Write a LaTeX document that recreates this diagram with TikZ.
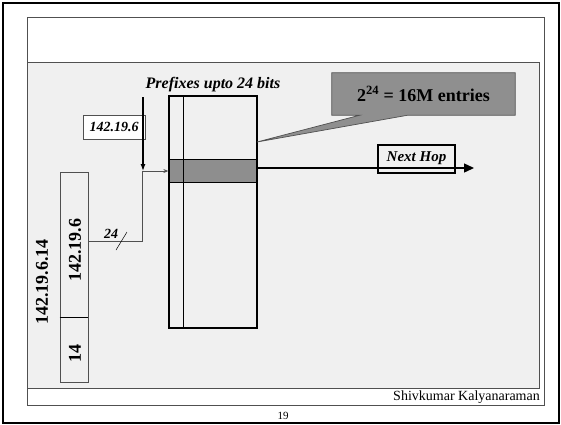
\documentclass[tikz,border=0pt]{standalone}
\usepackage{fontspec}
\setmainfont{Liberation Serif}
\usepackage{tikz}
\usetikzlibrary{arrows.meta,positioning,calc}
\definecolor{panel}{HTML}{F0F0F0}
\definecolor{rim}{HTML}{505050}
\definecolor{band}{HTML}{8E8E8E}
\definecolor{bubble}{HTML}{8F8F8F}

\begin{document}
\begin{tikzpicture}[x=1pt,y=-1pt,every node/.style={inner sep=0pt,align=center},
  tablebox/.style={draw=black,line width=1.3pt,minimum width=88pt,minimum height=232pt},
  cell/.style={draw=rim,line width=0.6pt,minimum width=#1},
  boldit/.style={font=\fontsize{#1}{#1}\selectfont\bfseries\itshape},
  boldup/.style={font=\fontsize{#1}{#1}\selectfont\bfseries},
  feed/.style={draw=rim,line width=0.7pt}]
\useasboundingbox (0,0) rectangle (561,424);
% slide frame
\draw[line width=2pt] (3,3) rectangle (559,423);
\draw[rim,line width=0.7pt] (27,17) rectangle (544,405);
\draw[rim,line width=0.7pt,fill=panel] (27,62) rectangle (539,388);
% forwarding table
\node[tablebox] (tbl) at (213,212) {};
\fill[band] (tbl.west |- 0,159) rectangle (tbl.east |- 0,182);
\draw[line width=0.8pt] (tbl.west |- 0,159) -- (tbl.east |- 0,159) (tbl.west |- 0,182) -- (tbl.east |- 0,182);
\draw[line width=0.6pt] ($(tbl.north west)+(15,0)$) -- ($(tbl.south west)+(15,0)$);
\node[tablebox] at (tbl) {};
\node[boldit=16,above=3pt of tbl] (ttl) {Prefixes upto 24 bits};
% callout
\node[minimum width=183pt,minimum height=42pt] (call) at (423.5,94) {};
\coordinate (ptr) at (257,142);
\draw[rim,line width=0.7pt,fill=bubble] (call.north west) -- (call.north east) -- (call.south east) -- ($(call.south west)+(76,0)$) -- (ptr) -- ($(call.south west)+(28,0)$) -- (call.south west) -- cycle;
\node[boldup=18] at (call) {2\textsuperscript{24} = 16M entries};
% next hop
\node[draw=black,line width=1.3pt,minimum width=77pt,minimum height=28pt] (hop) at (416.5,159) {};
\node[boldit=15] at ($(hop)+(0,-1)$) {Next Hop};
\coordinate (hopend) at (474,168);
\draw[line width=1.4pt,-{Triangle[length=10pt,width=9pt]}] (tbl.east |- hopend) -- (hopend);
% address bar
\node[cell=28pt,minimum height=210pt] (bar) at (74,277) {};
\draw[line width=0.6pt] (bar.west |- 0,317) -- (bar.east |- 0,317);
\node[boldup=18,rotate=90] (pre) at (75,250) {142.19.6};
\node[boldup=18,rotate=90] (suf) at (75,353) {14};
\node[boldup=18,rotate=90] (addr) at (42,282) {142.19.6.14};
% prefix lookup
\node[cell=62pt,minimum height=24pt,fill=white,boldit=14] (key) at (114,127) {142.19.6};
\coordinate (drop) at (143,97);
\coordinate (joint) at (142,171);
\draw[line width=1.2pt,-{Latex[length=7pt,width=5pt]}] (drop) -- (drop |- joint);
\draw[feed,-{Stealth[length=5pt,width=4pt]}] (bar.east |- 0,241) -| (joint) -- (tbl.west |- joint);
\draw[line width=0.5pt] (116,250) -- (127,232);
\node[boldit=14] (bits) at (111,234) {24};
% footer
\draw[rim,line width=0.6pt] (27,388) -- (539,388);
\node[anchor=east,font=\fontsize{14}{14}\selectfont] (auth) at (540,397) {Shivkumar Kalyanaraman};
\node[font=\fontsize{11}{11}\selectfont] (page) at (283,416) {19};
\end{tikzpicture}
\end{document}
